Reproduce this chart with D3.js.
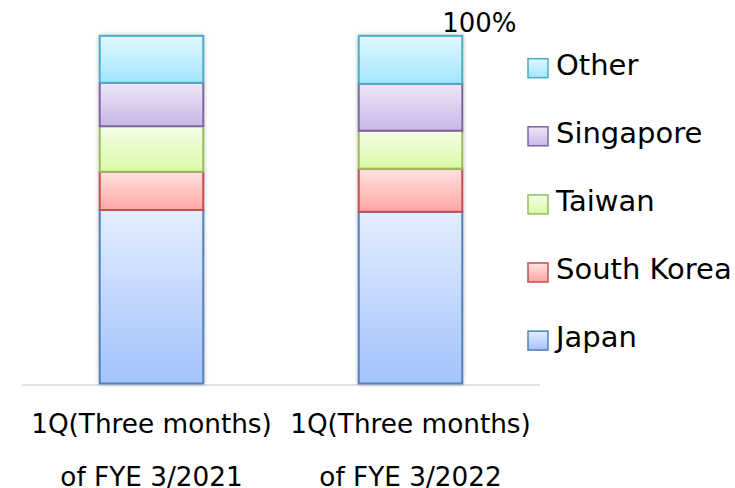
<!DOCTYPE html>
<html>
<head>
<meta charset="utf-8">
<script src="https://cdn.jsdelivr.net/npm/d3@7"></script>
<style>
  html, body { margin: 0; padding: 0; background: #fff; }
  svg { display: block; }
  text { font-family: "DejaVu Sans", Verdana, sans-serif; fill: #000; }
</style>
</head>
<body>
<svg id="chart" width="735" height="488"></svg>
<script>
// ---- data ----
const categories = ["1Q(Three months)\nof FYE 3/2021", "1Q(Three months)\nof FYE 3/2022"];
const seriesNames = ["Japan", "South Korea", "Taiwan", "Singapore", "Other"];
const japan      = [49.9, 49.4];
const southKorea = [11.0, 12.4];
const taiwan     = [13.1, 10.9];
const singapore  = [12.5, 13.5];
const other      = [13.5, 13.8];
const topLabel = "100%";

// ---- styles ----
const strokeColors = {"Japan":"#4f81bd","South Korea":"#c0504d","Taiwan":"#9bbb59","Singapore":"#8064a2","Other":"#4bacc6"};
const gradTop      = {"Japan":"#e3edfe","South Korea":"#ffe2e1","Taiwan":"#f4fde7","Singapore":"#eee8f7","Other":"#e0f8ff"};
const gradBottom   = {"Japan":"#a4c2fd","South Korea":"#ffa6a4","Taiwan":"#dafba5","Singapore":"#c8b6e6","Other":"#a2e6fd"};

const rows = categories.map((c, i) => ({
  cat: c,
  "Japan": japan[i], "South Korea": southKorea[i], "Taiwan": taiwan[i],
  "Singapore": singapore[i], "Other": other[i]
}));

const svg = d3.select("#chart");
const defs = svg.append("defs");
seriesNames.forEach((s, i) => {
  const g = defs.append("linearGradient").attr("id", "g" + i)
    .attr("x1", 0).attr("y1", 0).attr("x2", 0).attr("y2", 1);
  g.append("stop").attr("offset", "0%").attr("stop-color", gradTop[s]);
  g.append("stop").attr("offset", "100%").attr("stop-color", gradBottom[s]);
});
const f = defs.append("filter").attr("id", "shadow")
  .attr("x", "-20%").attr("y", "-5%").attr("width", "140%").attr("height", "110%");
f.append("feGaussianBlur").attr("in", "SourceAlpha").attr("stdDeviation", 2).attr("result", "b");
f.append("feComponentTransfer").attr("in", "b").attr("result", "b2")
  .append("feFuncA").attr("type", "linear").attr("slope", 0.25);
const fm = f.append("feMerge");
fm.append("feMergeNode").attr("in", "b2");
fm.append("feMergeNode").attr("in", "SourceGraphic");

const x = d3.scaleBand().domain(categories).range([22, 540]).paddingInner(0.6).paddingOuter(0.3);
const y = d3.scaleLinear().domain([0, 100]).range([383.5, 35.8]);

const stack = d3.stack().keys(seriesNames)(rows);

// axis line
svg.append("line").attr("x1", 22).attr("x2", 540).attr("y1", 385).attr("y2", 385)
  .attr("stroke", "#d9d9d9").attr("stroke-width", 1.5);

const gBars = svg.append("g").attr("filter", "url(#shadow)");
stack.forEach((layer, si) => {
  gBars.selectAll(null).data(layer).enter().append("rect")
    .attr("x", d => x(d.data.cat))
    .attr("width", x.bandwidth())
    .attr("y", d => y(d[1]))
    .attr("height", d => y(d[0]) - y(d[1]))
    .attr("fill", "url(#g" + si + ")")
    .attr("stroke", strokeColors[layer.key])
    .attr("stroke-width", 2);
});

// 100% label
svg.append("text")
  .attr("x", x(categories[1]) + x.bandwidth() + 17)
  .attr("y", y(100) - 3.5)
  .attr("text-anchor", "middle")
  .attr("font-size", 26)
  .text(topLabel);

// category labels
categories.forEach(c => {
  const lines = c.split("\n");
  const t = svg.append("text").attr("text-anchor", "middle").attr("font-size", 26.3);
  lines.forEach((ln, i) => {
    t.append("tspan").attr("x", x(c) + x.bandwidth() / 2).attr("y", i === 0 ? 433 : 485.5).text(ln);
  });
});

// legend (reverse order: Other on top)
const legendOrder = seriesNames.slice().reverse();
const lg = svg.append("g");
legendOrder.forEach((s, i) => {
  const cy = 68.2 + i * 68.1;
  const si = seriesNames.indexOf(s);
  lg.append("rect").attr("x", 528).attr("y", cy - 9.5).attr("width", 20).attr("height", 19)
    .attr("fill", "url(#g" + si + ")").attr("stroke", strokeColors[s]).attr("stroke-width", 1.5);
  lg.append("text").attr("x", 556).attr("y", cy + 6.5).attr("font-size", 29).text(s);
});
</script>
</body>
</html>
